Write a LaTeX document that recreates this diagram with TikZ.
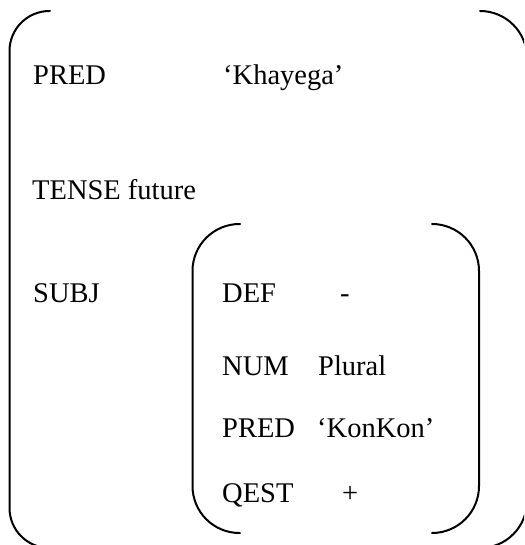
\documentclass[tikz,border=0pt]{standalone}
\usepackage{fontspec}
\setmainfont{Liberation Serif}
\begin{document}
\begin{tikzpicture}[x=1pt,y=-1pt,
  feat/.style={anchor=base west,inner sep=0pt,font=\fontsize{28.5}{34}\selectfont},
  val/.style={anchor=base west,inner sep=0pt,font=\fontsize{28.5}{34}\selectfont},
  brk/.style={line width=2pt,line cap=round}]
\useasboundingbox (0,0) rectangle (524,545);
\clip (0,0) rectangle (524,545);

% outer attribute-value matrix brackets
\draw[brk,rounded corners=40pt] (50,11) -- (9.5,11) -- (9.5,548) -- (50,548);
\draw[brk,rounded corners=47pt] (480,11) -- (527,11) -- (527,548) -- (480,548);

% embedded SUBJ matrix brackets
\draw[brk,rounded corners=47pt] (240,224) -- (192.5,224) -- (192.5,533) -- (240,533);
\draw[brk,rounded corners=47pt] (432,224) -- (479,224) -- (479,533) -- (432,533);

% outer features
\node[feat] (pred) at (33,85) {PRED};
\node[val]  (predv) at (223,85) {‘Khayega’};
\node[feat] (tense) at (32,200) {TENSE future};
\node[feat] (subj) at (33,302) {SUBJ};

% SUBJ features
\node[feat] (def) at (222,302) {DEF};
\node[val]  (defv) at (340,302) {-};
\node[feat] (num) at (222,375) {NUM};
\node[val]  (numv) at (318,375) {Plural};
\node[feat] (spred) at (222,437) {PRED};
\node[val]  (spredv) at (317,437) {‘KonKon’};
\node[feat] (qest) at (222,502) {QEST};
\node[val]  (qestv) at (342,502) {+};
\end{tikzpicture}
\end{document}
